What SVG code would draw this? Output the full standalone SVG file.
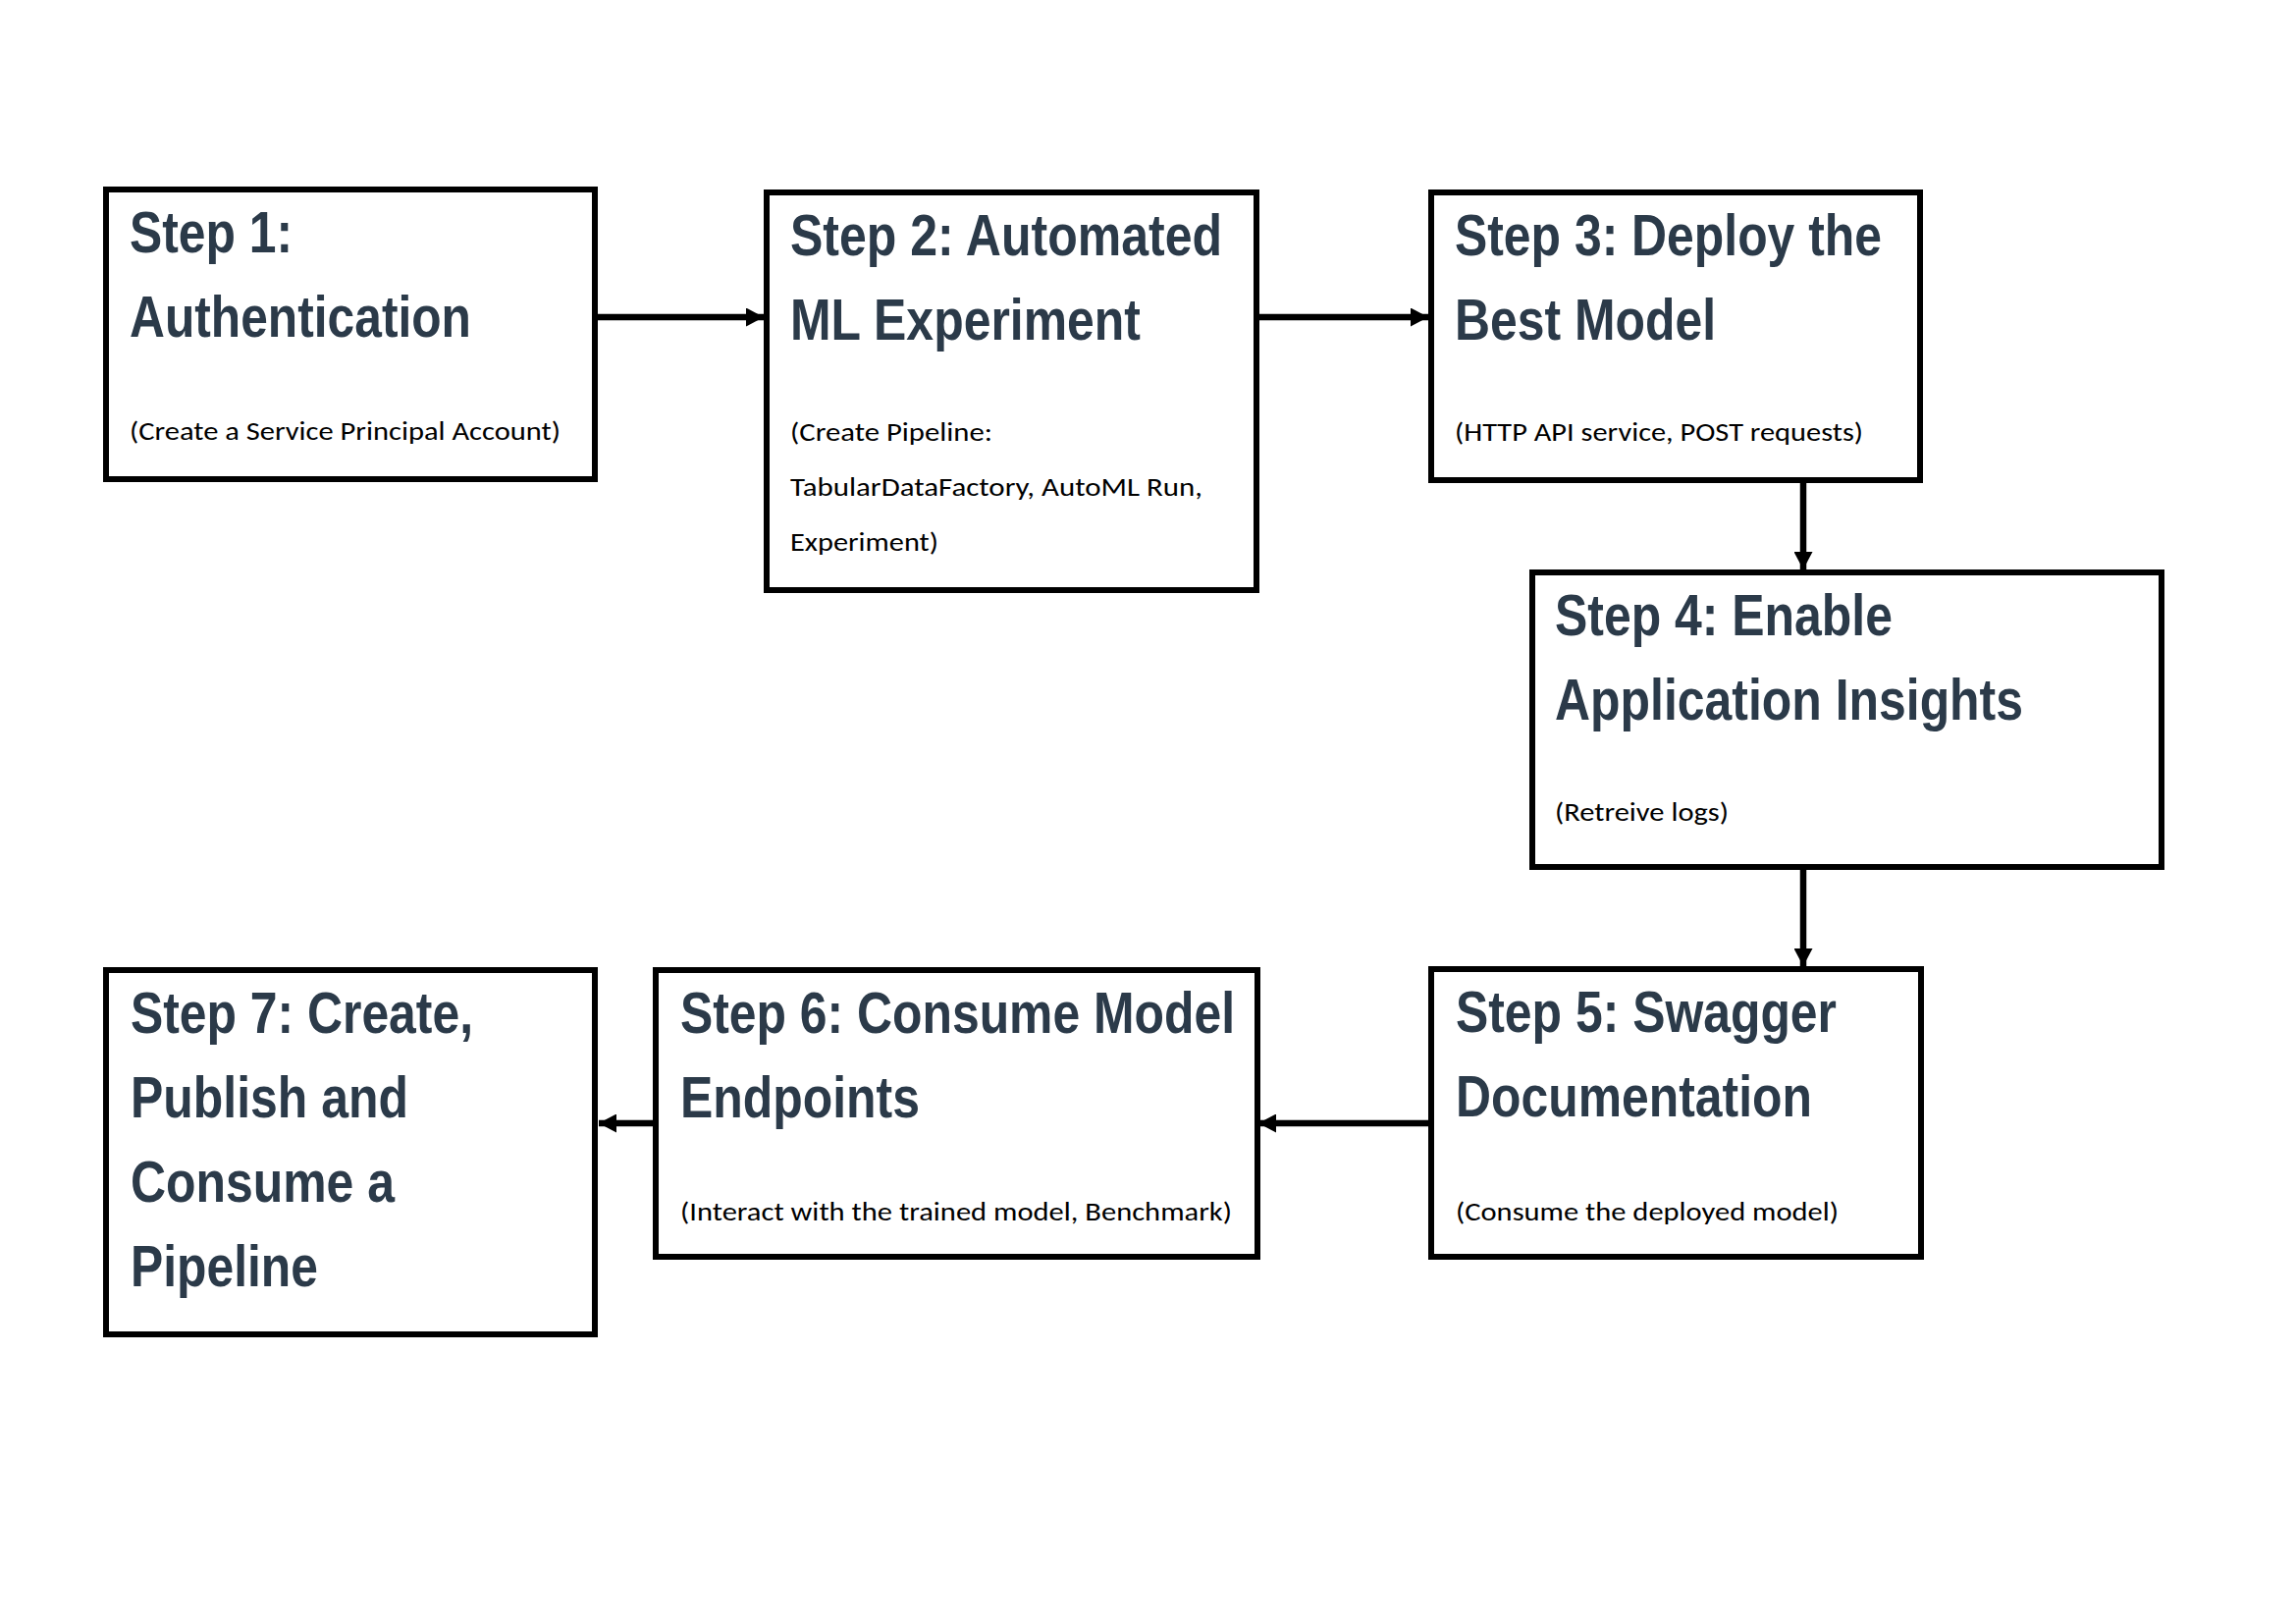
<svg xmlns="http://www.w3.org/2000/svg" width="2339" height="1654" viewBox="0 0 2339 1654">
<style>
.box{fill:#fff;stroke:#000;stroke-width:6}
.t{font-family:"Liberation Sans",Arial,sans-serif;font-weight:bold;font-size:60px;fill:#2b3a49}
.s{font-family:Carlito,Lato,"Liberation Sans",sans-serif;font-size:27px;fill:#000}
.c{stroke:#000;stroke-width:6.5;fill:none;marker-end:url(#ah)}
</style>
<defs>
<marker id="ah" markerUnits="userSpaceOnUse" markerWidth="18" markerHeight="19" refX="18" refY="9.5" orient="auto">
<path d="M0,0 L18,9.5 L0,19 Z" fill="#000"/>
</marker>
</defs>
<rect width="2339" height="1654" fill="#fff"/>
<g id="connectors">
<line class="c" x1="606" y1="323" x2="778" y2="323"/>
<line class="c" x1="1280" y1="323" x2="1455" y2="323"/>
<line class="c" x1="1837" y1="483" x2="1837" y2="580"/>
<line class="c" x1="1837" y1="883" x2="1837" y2="984"/>
<line class="c" x1="1458" y1="1144" x2="1282" y2="1144"/>
<line class="c" x1="668" y1="1144" x2="610" y2="1144"/>
</g>
<g id="step1">
<rect class="box" x="108" y="193" width="498" height="295"/>
<text class="t" x="132" y="257" textLength="166" lengthAdjust="spacingAndGlyphs">Step 1:</text>
<text class="t" x="132" y="343" textLength="348" lengthAdjust="spacingAndGlyphs">Authentication</text>
<text class="s" x="132" y="448" textLength="439" lengthAdjust="spacingAndGlyphs">(Create a Service Principal Account)</text>
</g>
<g id="step2">
<rect class="box" x="781" y="196" width="499" height="405"/>
<text class="t" x="805" y="260" textLength="440" lengthAdjust="spacingAndGlyphs">Step 2: Automated</text>
<text class="t" x="805" y="346" textLength="357" lengthAdjust="spacingAndGlyphs">ML Experiment</text>
<text class="s" x="805" y="449" textLength="206" lengthAdjust="spacingAndGlyphs">(Create Pipeline:</text>
<text class="s" x="805" y="505" textLength="420" lengthAdjust="spacingAndGlyphs">TabularDataFactory, AutoML Run,</text>
<text class="s" x="805" y="561" textLength="151" lengthAdjust="spacingAndGlyphs">Experiment)</text>
</g>
<g id="step3">
<rect class="box" x="1458" y="196" width="498" height="293"/>
<text class="t" x="1482" y="260" textLength="435" lengthAdjust="spacingAndGlyphs">Step 3: Deploy the</text>
<text class="t" x="1482" y="346" textLength="266" lengthAdjust="spacingAndGlyphs">Best Model</text>
<text class="s" x="1482" y="449" textLength="416" lengthAdjust="spacingAndGlyphs">(HTTP API service, POST requests)</text>
</g>
<g id="step4">
<rect class="box" x="1561" y="583" width="641" height="300"/>
<text class="t" x="1584" y="647" textLength="344" lengthAdjust="spacingAndGlyphs">Step 4: Enable</text>
<text class="t" x="1584" y="733" textLength="477" lengthAdjust="spacingAndGlyphs">Application Insights</text>
<text class="s" x="1584" y="836" textLength="177" lengthAdjust="spacingAndGlyphs">(Retreive logs)</text>
</g>
<g id="step5">
<rect class="box" x="1458" y="987" width="499" height="293"/>
<text class="t" x="1483" y="1051" textLength="388" lengthAdjust="spacingAndGlyphs">Step 5: Swagger</text>
<text class="t" x="1483" y="1137" textLength="363" lengthAdjust="spacingAndGlyphs">Documentation</text>
<text class="s" x="1483" y="1243" textLength="390" lengthAdjust="spacingAndGlyphs">(Consume the deployed model)</text>
</g>
<g id="step6">
<rect class="box" x="668" y="988" width="613" height="292"/>
<text class="t" x="693" y="1052" textLength="565" lengthAdjust="spacingAndGlyphs">Step 6: Consume Model</text>
<text class="t" x="693" y="1138" textLength="244" lengthAdjust="spacingAndGlyphs">Endpoints</text>
<text class="s" x="693" y="1243" textLength="562" lengthAdjust="spacingAndGlyphs">(Interact with the trained model, Benchmark)</text>
</g>
<g id="step7">
<rect class="box" x="108" y="988" width="498" height="371"/>
<text class="t" x="133" y="1052" textLength="349" lengthAdjust="spacingAndGlyphs">Step 7: Create,</text>
<text class="t" x="133" y="1138" textLength="283" lengthAdjust="spacingAndGlyphs">Publish and</text>
<text class="t" x="133" y="1224" textLength="269" lengthAdjust="spacingAndGlyphs">Consume a</text>
<text class="t" x="133" y="1310" textLength="191" lengthAdjust="spacingAndGlyphs">Pipeline</text>
</g>
</svg>
